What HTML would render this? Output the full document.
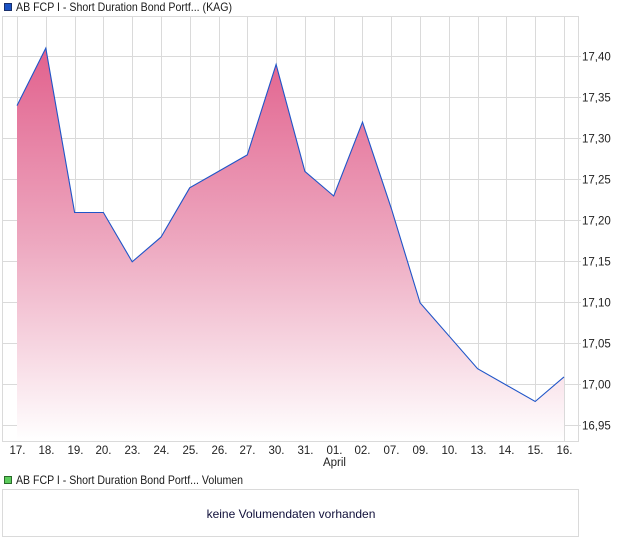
<!DOCTYPE html>
<html>
<head>
<meta charset="utf-8">
<style>
  html,body{margin:0;padding:0;background:#fff;}
  svg{display:block;}
  text{font-family:"Liberation Sans", Arial, sans-serif;}
</style>
</head>
<body>
<svg width="620" height="546" viewBox="0 0 620 546" xmlns="http://www.w3.org/2000/svg">
  <defs>
    <linearGradient id="fillg" x1="0" y1="40" x2="0" y2="441" gradientUnits="userSpaceOnUse">
      <stop offset="0" stop-color="#e15e8b"/>
      <stop offset="0.5" stop-color="#eda7bf"/>
      <stop offset="1" stop-color="#ffffff"/>
    </linearGradient>
  </defs>

  <!-- Legend 1 -->
  <rect x="4.5" y="3.5" width="7" height="7" fill="#1a52c4" stroke="#1a2f6a" stroke-width="1"/>
  <text x="16" y="11" font-size="12" fill="#1a1a1a" textLength="216" lengthAdjust="spacingAndGlyphs">AB FCP I - Short Duration Bond Portf... (KAG)</text>

  <!-- Horizontal grid -->
  <g stroke="#dadada" stroke-width="1">
    <line x1="2" y1="56.5" x2="581" y2="56.5"/>
    <line x1="2" y1="97.5" x2="581" y2="97.5"/>
    <line x1="2" y1="138.5" x2="581" y2="138.5"/>
    <line x1="2" y1="179.5" x2="581" y2="179.5"/>
    <line x1="2" y1="220.5" x2="581" y2="220.5"/>
    <line x1="2" y1="261.5" x2="581" y2="261.5"/>
    <line x1="2" y1="302.5" x2="581" y2="302.5"/>
    <line x1="2" y1="343.5" x2="581" y2="343.5"/>
    <line x1="2" y1="384.5" x2="581" y2="384.5"/>
    <line x1="2" y1="425.5" x2="581" y2="425.5"/>
  </g>
  <!-- Vertical grid -->
  <g stroke="#dadada" stroke-width="1">
    <line x1="17.5" y1="16" x2="17.5" y2="441"/>
    <line x1="46.5" y1="16" x2="46.5" y2="441"/>
    <line x1="75.5" y1="16" x2="75.5" y2="441"/>
    <line x1="103.5" y1="16" x2="103.5" y2="441"/>
    <line x1="132.5" y1="16" x2="132.5" y2="441"/>
    <line x1="161.5" y1="16" x2="161.5" y2="441"/>
    <line x1="190.5" y1="16" x2="190.5" y2="441"/>
    <line x1="219.5" y1="16" x2="219.5" y2="441"/>
    <line x1="247.5" y1="16" x2="247.5" y2="441"/>
    <line x1="276.5" y1="16" x2="276.5" y2="441"/>
    <line x1="305.5" y1="16" x2="305.5" y2="441"/>
    <line x1="334.5" y1="16" x2="334.5" y2="441"/>
    <line x1="362.5" y1="16" x2="362.5" y2="441"/>
    <line x1="391.5" y1="16" x2="391.5" y2="441"/>
    <line x1="420.5" y1="16" x2="420.5" y2="441"/>
    <line x1="449.5" y1="16" x2="449.5" y2="441"/>
    <line x1="478.5" y1="16" x2="478.5" y2="441"/>
    <line x1="506.5" y1="16" x2="506.5" y2="441"/>
    <line x1="535.5" y1="16" x2="535.5" y2="441"/>
    <line x1="564.5" y1="16" x2="564.5" y2="441"/>
  </g>
  <!-- Frame -->
  <rect x="2.5" y="16.5" width="576" height="425" fill="none" stroke="#dadada" stroke-width="1"/>

  <!-- Area fill -->
  <polygon fill="url(#fillg)" points="17,441 17,105.6 45.8,48.1 74.6,212.5 103.4,212.5 132.2,261.8 161.0,237.1 189.7,187.8 218.5,171.4 247.3,154.9 276.1,64.5 304.9,171.4 333.7,196.0 362.5,122.1 391.3,208.4 420.1,302.9 448.9,335.8 477.6,368.7 506.4,385.1 535.2,401.5 564.0,376.9 564,441"/>
  <!-- Line -->
  <polyline fill="none" stroke="#1f55c8" stroke-width="1.1" stroke-linejoin="miter" points="17,105.6 45.8,48.1 74.6,212.5 103.4,212.5 132.2,261.8 161.0,237.1 189.7,187.8 218.5,171.4 247.3,154.9 276.1,64.5 304.9,171.4 333.7,196.0 362.5,122.1 391.3,208.4 420.1,302.9 448.9,335.8 477.6,368.7 506.4,385.1 535.2,401.5 564.0,376.9"/>

  <!-- Y labels -->
  <g font-size="11.5" fill="#222">
    <text x="582" y="60.5">17,40</text>
    <text x="582" y="101.5">17,35</text>
    <text x="582" y="142.5">17,30</text>
    <text x="582" y="183.5">17,25</text>
    <text x="582" y="224.5">17,20</text>
    <text x="582" y="265.5">17,15</text>
    <text x="582" y="306.5">17,10</text>
    <text x="582" y="347.5">17,05</text>
    <text x="582" y="388.5">17,00</text>
    <text x="582" y="429.5">16,95</text>
  </g>

  <!-- X labels -->
  <g font-size="11.5" fill="#222" text-anchor="middle">
    <text x="17.5" y="454">17.</text>
    <text x="46.5" y="454">18.</text>
    <text x="75.5" y="454">19.</text>
    <text x="103.5" y="454">20.</text>
    <text x="132.5" y="454">23.</text>
    <text x="161.5" y="454">24.</text>
    <text x="190.5" y="454">25.</text>
    <text x="219.5" y="454">26.</text>
    <text x="247.5" y="454">27.</text>
    <text x="276.5" y="454">30.</text>
    <text x="305.5" y="454">31.</text>
    <text x="334.5" y="454">01.</text>
    <text x="362.5" y="454">02.</text>
    <text x="391.5" y="454">07.</text>
    <text x="420.5" y="454">09.</text>
    <text x="449.5" y="454">10.</text>
    <text x="478.5" y="454">13.</text>
    <text x="506.5" y="454">14.</text>
    <text x="535.5" y="454">15.</text>
    <text x="564.5" y="454">16.</text>
    <text x="334.5" y="466">April</text>
  </g>

  <!-- Legend 2 -->
  <rect x="4.5" y="476.5" width="7" height="7" fill="#5ccc5c" stroke="#2a6a2a" stroke-width="1"/>
  <text x="16" y="484" font-size="12" fill="#1a1a1a" textLength="227" lengthAdjust="spacingAndGlyphs">AB FCP I - Short Duration Bond Portf... Volumen</text>

  <!-- Volume box -->
  <rect x="2.5" y="489.5" width="576" height="47" fill="#fff" stroke="#dadada" stroke-width="1"/>
  <text x="291" y="518" font-size="12" fill="#10103a" text-anchor="middle">keine Volumendaten vorhanden</text>
</svg>
</body>
</html>
